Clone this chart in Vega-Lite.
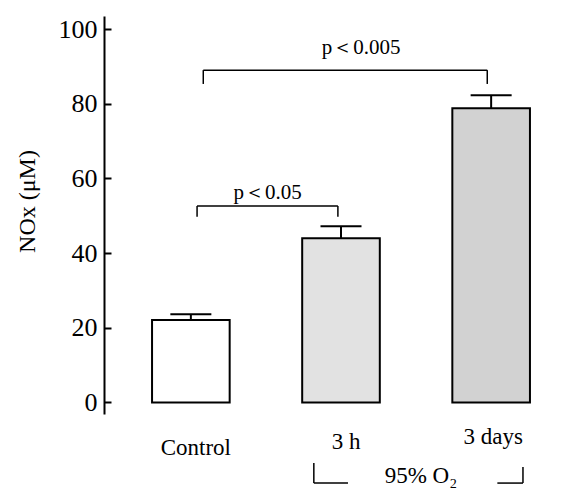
{
  "$schema": "https://vega.github.io/schema/vega-lite/v6.json",
  "width": 474,
  "height": 398,
  "autosize": {"type": "none"},
  "padding": {"left": 104, "top": 16, "right": 0, "bottom": 74},
  "background": "white",
  "config": {"view": {"stroke": null}, "font": "Liberation Serif"},
  "datasets": {
    "bars": [
      {"group": "Control", "mean": 22.1, "upper": 23.6},
      {"group": "3 h", "mean": 44.0, "upper": 47.2},
      {"group": "3 days", "mean": 78.8, "upper": 82.3}
    ]
  },
  "layer": [
    {
      "data": {"name": "bars"},
      "mark": {"type": "bar", "stroke": "black", "strokeWidth": 2},
      "encoding": {
        "x": {
          "field": "group", "type": "nominal",
          "scale": {"domain": ["Control", "3 h", "3 days"], "paddingInner": 0.483, "paddingOuter": 0.32},
          "title": null,
          "axis": {
            "domain": false, "ticks": false, "labelAngle": 0,
            "labelFont": "Liberation Serif", "labelFontSize": 23, "labelColor": "black",
            "labelBaseline": "alphabetic",
            "labelPadding": {"condition": [{"test": "datum.value === 'Control'", "value": 40}, {"test": "datum.value === '3 h'", "value": 34}], "value": 29},
            "labelOffset": {"condition": {"test": "datum.value === '3 days'", "value": 2}, "value": 5}
          }
        },
        "y": {
          "field": "mean", "type": "quantitative",
          "scale": {"domain": [-3.1, 103.5], "nice": false, "zero": false},
          "title": "NOx (μM)",
          "axis": {
            "values": [0, 10, 20, 30, 40, 50, 60, 70, 80, 90, 100],
            "labelExpr": "datum.value % 20 === 0 ? datum.label : ''",
            "tickSize": {"condition": {"test": "datum.value % 20 === 0", "value": -7}, "value": -5},
            "tickWidth": 2, "tickColor": "black",
            "domainColor": "black", "domainWidth": 2,
            "grid": false,
            "labelFont": "Liberation Serif", "labelFontSize": 26, "labelColor": "black", "labelPadding": 14,
            "titleFont": "Liberation Serif", "titleFontSize": 24, "titleFontWeight": "normal", "titleColor": "black",
            "titleAngle": -90, "titleX": -70, "titleY": 185, "titleBaseline": "alphabetic", "titleAlign": "center"
          }
        },
        "y2": {"datum": 0},
        "fill": {
          "field": "group", "type": "nominal",
          "scale": {"domain": ["Control", "3 h", "3 days"], "range": ["#ffffff", "#e2e2e2", "#d2d2d2"]},
          "legend": null
        }
      }
    },
    {
      "data": {"name": "bars"},
      "mark": {"type": "rule", "color": "black", "strokeWidth": 2},
      "encoding": {
        "x": {"field": "group", "type": "nominal"},
        "y": {"field": "mean", "type": "quantitative"},
        "y2": {"field": "upper"}
      }
    },
    {
      "data": {"name": "bars"},
      "mark": {"type": "tick", "color": "black", "thickness": 2, "size": 41, "opacity": 1, "orient": "horizontal"},
      "encoding": {
        "x": {"field": "group", "type": "nominal"},
        "y": {"field": "upper", "type": "quantitative"}
      }
    },
    {
      "mark": {"type": "rule", "color": "black", "strokeWidth": 2},
      "encoding": {"y": {"datum": 103.5}}
    },
    {
      "mark": {"type": "rule", "color": "black", "strokeWidth": 2},
      "encoding": {"y": {"datum": 0}}
    },
    {
      "data": {"values": [{"left": "Control", "right": "3 days", "mid": "3 h", "top": 89.0, "bottom": 85.3, "labelY": 93.4, "label": "p＜0.005"}]},
      "layer": [
        {
          "mark": {"type": "rule", "color": "black", "strokeWidth": 1.5},
          "encoding": {
            "x": {"field": "left", "type": "nominal", "bandPosition": 0.66},
            "x2": {"field": "right", "bandPosition": 0.45},
            "y": {"field": "top", "type": "quantitative"}
          }
        },
        {
          "mark": {"type": "rule", "color": "black", "strokeWidth": 1.5},
          "encoding": {
            "x": {"field": "left", "type": "nominal", "bandPosition": 0.66},
            "y": {"field": "top", "type": "quantitative"},
            "y2": {"field": "bottom"}
          }
        },
        {
          "mark": {"type": "rule", "color": "black", "strokeWidth": 1.5},
          "encoding": {
            "x": {"field": "right", "type": "nominal", "bandPosition": 0.45},
            "y": {"field": "top", "type": "quantitative"},
            "y2": {"field": "bottom"}
          }
        },
        {
          "mark": {"type": "text", "font": "Liberation Serif", "fontSize": 21, "color": "black", "baseline": "alphabetic", "align": "center"},
          "encoding": {
            "x": {"field": "mid", "type": "nominal", "bandPosition": 0.76},
            "y": {"field": "labelY", "type": "quantitative"},
            "text": {"field": "label"}
          }
        }
      ]
    },
    {
      "data": {"values": [{"left": "Control", "right": "3 h", "top": 52.6, "bottom": 49.7, "labelY": 54.5, "label": "p＜0.05"}]},
      "layer": [
        {
          "mark": {"type": "rule", "color": "black", "strokeWidth": 1.5},
          "encoding": {
            "x": {"field": "left", "type": "nominal", "bandPosition": 0.58},
            "x2": {"field": "right", "bandPosition": 0.46},
            "y": {"field": "top", "type": "quantitative"}
          }
        },
        {
          "mark": {"type": "rule", "color": "black", "strokeWidth": 1.5},
          "encoding": {
            "x": {"field": "left", "type": "nominal", "bandPosition": 0.58},
            "y": {"field": "top", "type": "quantitative"},
            "y2": {"field": "bottom"}
          }
        },
        {
          "mark": {"type": "rule", "color": "black", "strokeWidth": 1.5},
          "encoding": {
            "x": {"field": "right", "type": "nominal", "bandPosition": 0.46},
            "y": {"field": "top", "type": "quantitative"},
            "y2": {"field": "bottom"}
          }
        },
        {
          "mark": {"type": "text", "font": "Liberation Serif", "fontSize": 21, "color": "black", "baseline": "alphabetic", "align": "center"},
          "encoding": {
            "x": {"field": "left", "type": "nominal", "bandPosition": 1.49},
            "y": {"field": "labelY", "type": "quantitative"},
            "text": {"field": "label"}
          }
        }
      ]
    },
    {
      "data": {"values": [{"start": "3 h", "end": "3 days", "top": -16.2, "topR": -17.3, "bottom": -21.6, "labelY": -21.6, "label": "95%  O₂"}]},
      "layer": [
        {
          "mark": {"type": "rule", "color": "black", "strokeWidth": 1.5},
          "encoding": {
            "x": {"field": "start", "type": "nominal", "bandPosition": 0.15},
            "y": {"field": "top", "type": "quantitative"},
            "y2": {"field": "bottom"}
          }
        },
        {
          "mark": {"type": "rule", "color": "black", "strokeWidth": 1.5},
          "encoding": {
            "x": {"field": "start", "type": "nominal", "bandPosition": 0.15},
            "x2": {"field": "start", "bandPosition": 0.59},
            "y": {"field": "bottom", "type": "quantitative"}
          }
        },
        {
          "mark": {"type": "rule", "color": "black", "strokeWidth": 1.5},
          "encoding": {
            "x": {"field": "end", "type": "nominal", "bandPosition": 0.58},
            "x2": {"field": "end", "bandPosition": 0.91},
            "y": {"field": "bottom", "type": "quantitative"}
          }
        },
        {
          "mark": {"type": "rule", "color": "black", "strokeWidth": 1.5},
          "encoding": {
            "x": {"field": "end", "type": "nominal", "bandPosition": 0.91},
            "y": {"field": "topR", "type": "quantitative"},
            "y2": {"field": "bottom"}
          }
        },
        {
          "mark": {"type": "text", "font": "Liberation Serif", "fontSize": 23, "color": "black", "baseline": "alphabetic", "align": "center"},
          "encoding": {
            "x": {"field": "start", "type": "nominal", "bandPosition": 1.53},
            "y": {"field": "labelY", "type": "quantitative"},
            "text": {"field": "label"}
          }
        }
      ]
    }
  ]
}
